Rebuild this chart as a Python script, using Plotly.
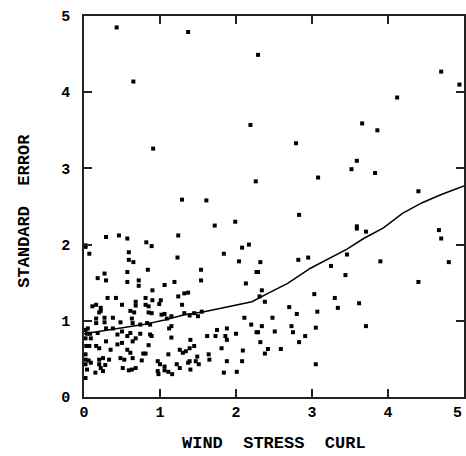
import plotly.graph_objects as go

# scatter points (wind stress curl, standard error)
pts_x = [0.02,0.07,0.29,0.46,0.57,0.82,0.89,1.24,1.23,0.59,0.59,0.65,0.18,0.27,0.29,0.57,0.84,0.57,0.72,0.72,
         0.90,1.06,1.19,1.54,1.54,1.84,0.31,0.42,0.68,0.81,0.90,1.01,1.24,1.32,1.37,0.11,0.16,0.22,0.50,0.68,
         0.81,0.85,0.99,1.29,0.22,0.20,0.38,0.27,0.16,0.61,0.66,0.85,0.89,1.02,1.06,1.15,1.09,1.32,1.39,1.45,
         1.55,1.50,0.16,0.27,0.48,0.63,0.64,0.74,0.83,0.87,0.05,0.02,0.04,0.08,0.18,0.29,0.38,0.44,0.50,0.57,
         0.61,0.74,0.87,0.89,1.12,1.15,1.15,1.75,1.88,1.62,1.73,1.86,0.02,0.09,0.29,0.50,0.64,0.68,1.40,1.88,
         0.03,0.07,0.16,0.20,0.35,0.44,0.57,0.61,0.81,0.85,1.26,1.30,1.34,1.39,1.45,1.64,1.81,0.02,0.02,0.06,
         0.09,0.20,0.25,0.33,0.48,0.53,0.64,0.78,0.76,1.11,1.49,1.39,1.37,1.47,1.65,0.02,0.04,0.20,0.22,0.28,
         0.51,0.59,0.63,0.68,0.97,1.00,1.06,0.97,0.98,1.06,1.11,1.16,1.22,1.26,1.40,1.51,0.15,0.25,0.02,1.84,
         1.88,0.02,
         3.59,3.71,4.67,4.70,4.80,3.90,4.40,2.08,2.17,2.04,2.32,2.27,2.29,2.13,2.34,2.31,2.38,2.82,2.95,3.46,
         3.25,3.44,3.03,3.30,3.34,3.62,3.07,2.70,2.80,2.11,2.48,2.20,2.34,2.73,3.05,3.71,2.27,2.29,2.51,2.75,
         2.91,2.83,2.00,2.32,2.42,2.38,2.59,2.09,2.08,2.01,3.05,
         2.29,4.70,4.94,4.12,2.19,3.66,3.86,2.79,3.59,3.52,3.83,2.26,3.08,4.40,2.83,1.99,3.59,
         0.43,1.37,0.65,0.91,1.29,1.61,1.72]
pts_y = [1.97,1.88,2.10,2.12,2.08,2.03,1.98,2.12,1.83,1.90,1.80,1.77,1.56,1.62,1.53,1.64,1.67,1.51,1.53,1.46,
         1.40,1.47,1.51,1.67,1.53,1.88,1.30,1.30,1.25,1.30,1.27,1.27,1.32,1.36,1.37,1.19,1.21,1.17,1.21,1.20,
         1.21,1.19,1.22,1.21,1.13,1.11,1.04,1.04,1.03,1.13,1.11,1.11,1.10,1.08,1.09,1.06,1.03,1.10,1.07,1.10,
         1.12,1.06,0.97,0.98,0.98,1.03,0.97,0.95,0.97,0.95,0.90,0.88,0.83,0.83,0.84,0.90,0.90,0.82,0.86,0.80,
         0.84,0.83,0.82,0.80,0.90,0.93,0.78,0.88,0.90,0.80,0.80,0.80,0.77,0.77,0.73,0.71,0.73,0.77,0.75,0.75,
         0.67,0.67,0.67,0.64,0.62,0.69,0.62,0.58,0.57,0.68,0.62,0.58,0.60,0.64,0.67,0.56,0.64,0.56,0.49,0.48,
         0.45,0.49,0.51,0.49,0.51,0.49,0.51,0.57,0.48,0.56,0.53,0.47,0.45,0.47,0.49,0.43,0.36,0.43,0.38,0.42,
         0.38,0.35,0.36,0.38,0.47,0.43,0.40,0.34,0.30,0.35,0.33,0.30,0.43,0.38,0.36,0.43,0.32,0.34,0.25,0.32,
         0.47,1.99,
         2.21,2.17,2.19,2.08,1.77,1.78,1.51,1.96,2.00,1.78,1.77,1.64,1.64,1.49,1.40,1.32,1.25,1.80,1.83,1.87,
         1.72,1.60,1.35,1.30,1.17,1.23,1.12,1.18,1.09,1.04,1.04,0.95,0.93,0.93,0.91,0.93,0.85,0.85,0.86,0.85,
         0.80,0.72,0.83,0.72,0.63,0.57,0.63,0.61,0.47,0.33,0.43,
         4.49,4.27,4.10,3.93,3.57,3.59,3.50,3.33,3.10,2.99,2.94,2.83,2.88,2.70,2.39,2.30,2.24,
         4.85,4.79,4.14,3.26,2.59,2.58,2.25]

# smooth fitted curve
line_x = [0.0,0.2,0.5,0.78,1.06,1.32,1.58,1.92,2.21,2.42,2.68,2.98,3.24,3.46,3.68,3.94,4.19,4.45,4.71,5.0]
line_y = [0.83,0.86,0.90,0.95,1.01,1.08,1.12,1.19,1.25,1.36,1.49,1.69,1.83,1.94,2.08,2.22,2.41,2.55,2.66,2.77]

x_ticks = [0, 1, 2, 3, 4]
x_edge_tick = 5
y_ticks = [0, 1, 2, 3, 4, 5]

fig = go.Figure()
fig.add_trace(go.Scatter(x=pts_x, y=pts_y, mode="markers",
                         marker=dict(symbol="square", size=4, color="black", line=dict(width=0)),
                         showlegend=False, cliponaxis=False))
fig.add_trace(go.Scatter(x=line_x, y=line_y, mode="lines",
                         line=dict(color="black", width=1.5), showlegend=False))

tickfont = dict(family="Liberation Mono", size=15, color="black", weight="bold")
axis_common = dict(showgrid=False, zeroline=False, showline=True, linecolor="#222", linewidth=1.5,
                   mirror="allticks", ticks="inside", ticklen=8, tickwidth=1.5, tickcolor="#222",
                   tickfont=tickfont)
fig.update_xaxes(range=[0, 5], tickvals=x_ticks + [x_edge_tick],
                 ticktext=[str(v) for v in x_ticks] + [""], **axis_common)
fig.update_yaxes(range=[0, 5], tickvals=y_ticks, ticktext=[str(v) for v in y_ticks],
                 ticklabelstandoff=9, **axis_common)

# tick label at the right edge, kept just inside the page edge
fig.add_annotation(text=str(x_edge_tick), xref="x", yref="paper", x=x_edge_tick, y=-0.042,
                   xanchor="right", yanchor="middle", showarrow=False, font=tickfont)

titlefont = dict(family="Liberation Mono", size=17, color="black", weight="bold")
fig.add_annotation(text="WIND  STRESS  CURL", xref="paper", yref="paper", x=0.5, y=-0.152,
                   xanchor="center", yanchor="bottom", showarrow=False, font=titlefont)
fig.add_annotation(text="STANDARD  ERROR", xref="paper", yref="paper", x=-0.157, y=0.49,
                   xanchor="center", yanchor="middle", showarrow=False, textangle=-90, font=titlefont)

fig.update_layout(width=466, height=456, margin=dict(l=84, r=0, t=16, b=59),
                  plot_bgcolor="white", paper_bgcolor="white")
fig.write_html("out.html")
